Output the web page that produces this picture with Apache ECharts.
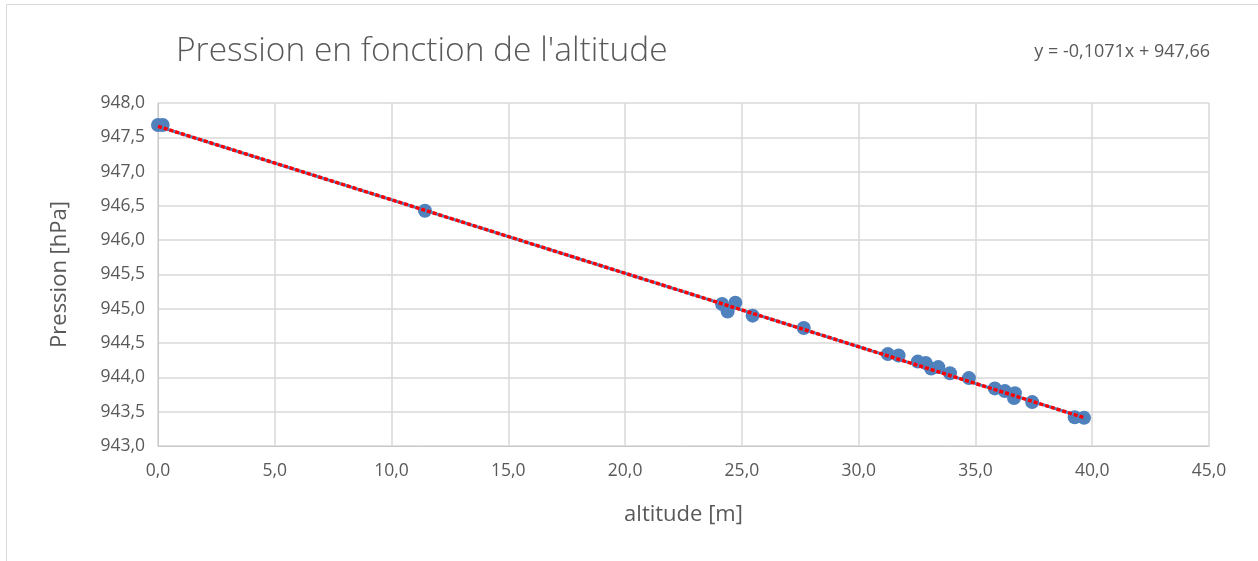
<!DOCTYPE html>
<html>
<head>
<meta charset="utf-8">
<script src="https://cdn.jsdelivr.net/npm/echarts@6/dist/echarts.min.js"></script>
<style>
  html, body { margin: 0; padding: 0; background: #fff; }
  #chart { width: 1258px; height: 561px; }
</style>
</head>
<body>
<div id="chart"></div>
<script>
// Mesures : altitude [m] et pression [hPa]
const altitude = [0.0, 0.2, 11.43, 24.15, 24.39, 24.72, 25.46, 27.65, 31.25, 31.71, 32.53, 32.87, 33.10, 33.41, 33.91, 34.72, 35.83, 36.26, 36.65, 36.69, 37.43, 39.25, 39.65];
const pression = [947.68, 947.68, 946.43, 945.07, 944.96, 945.09, 944.90, 944.72, 944.34, 944.32, 944.23, 944.21, 944.13, 944.15, 944.06, 943.99, 943.84, 943.80, 943.70, 943.77, 943.64, 943.42, 943.41];

// Régression linéaire
const pente = -0.1071;
const ordonnee = 947.66;
const equation = 'y = -0,1071x + 947,66';

const fmt = v => v.toFixed(1).replace('.', ',');

const points = altitude.map((x, i) => [x, pression[i]]);
const xs = [Math.min(...altitude), Math.max(...altitude)];
const tendance = xs.map(x => [x, pente * x + ordonnee]);

const textColor = '#595959';
const font = '"Open Sans", Lato, sans-serif';

const chart = echarts.init(document.getElementById('chart'), null, { renderer: 'canvas' });
chart.setOption({
  backgroundColor: '#fff',
  animation: false,
  title: [{
    text: "Pression en fonction de l'altitude",
    left: 171, top: 29,
    textStyle: { fontFamily: font, fontSize: 33.5, fontWeight: 300, color: textColor }
  }, {
    text: equation,
    right: 43, top: 38,
    textStyle: { fontFamily: font, fontSize: 18, fontWeight: 'normal', color: textColor }
  }],
  graphic: [{
    type: 'rect',
    shape: { x: 6.5, y: 4.5, width: 1300, height: 600 },
    style: { fill: 'none', stroke: '#d9d9d9', lineWidth: 1 },
    silent: true
  }],
  grid: { left: 158, right: 49, top: 103, bottom: 115 },
  xAxis: {
    type: 'value', min: 0, max: 45, interval: 5,
    name: 'altitude [m]', nameLocation: 'middle', nameGap: 58,
    nameTextStyle: { fontFamily: font, fontSize: 22, color: textColor },
    axisLine: { show: true, lineStyle: { color: '#c8c8c8', width: 1 } },
    axisTick: { show: false },
    axisLabel: { formatter: fmt, fontFamily: font, fontSize: 17.5, color: textColor, margin: 16 },
    splitLine: { show: true, lineStyle: { color: '#d9d9d9', width: 1.5 } }
  },
  yAxis: {
    type: 'value', min: 943, max: 948, interval: 0.5,
    name: 'Pression [hPa]', nameLocation: 'middle', nameGap: 87, nameRotate: 90,
    nameTextStyle: { fontFamily: font, fontSize: 22, color: textColor },
    axisLine: { show: true, lineStyle: { color: '#c8c8c8', width: 1 } },
    axisTick: { show: false },
    axisLabel: { formatter: fmt, fontFamily: font, fontSize: 17.5, color: textColor, margin: 13 },
    splitLine: { show: true, lineStyle: { color: '#d9d9d9', width: 1.5 } }
  },
  series: [{
    name: 'Pression',
    type: 'scatter',
    data: points,
    symbol: 'circle',
    symbolSize: 14,
    itemStyle: { color: '#4f81bd', opacity: 1 },
    z: 2
  }, {
    name: 'Tendance',
    type: 'line',
    data: tendance,
    symbol: 'none',
    lineStyle: { color: '#4f81bd', width: 3 },
    z: 3
  }, {
    name: 'Linéaire (Pression)',
    type: 'line',
    data: tendance,
    symbol: 'none',
    lineStyle: { color: '#ff0000', width: 3.5, type: [4, 2] },
    z: 4
  }]
});
</script>
</body>
</html>
